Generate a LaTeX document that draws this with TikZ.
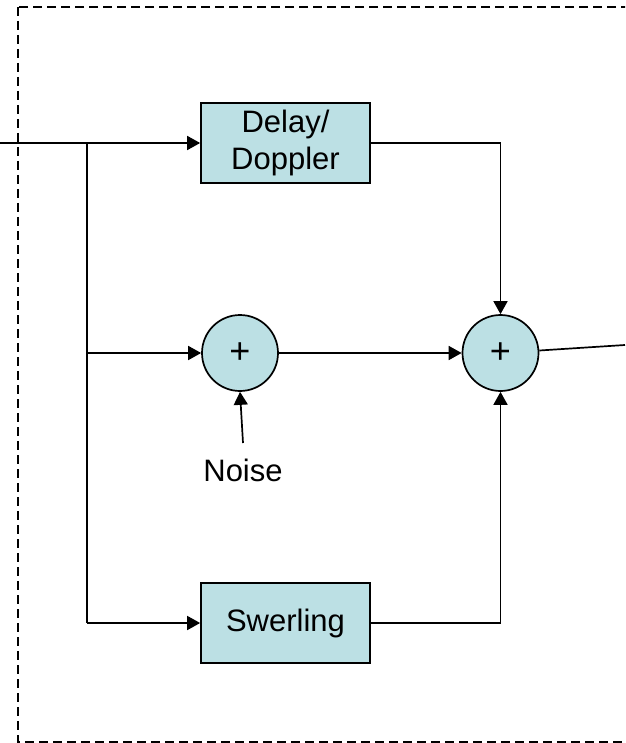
\documentclass[tikz,border=0pt]{standalone}
\usepackage{fontspec}
\setmainfont{Liberation Sans}
\usetikzlibrary{arrows.meta}
\definecolor{boxfill}{RGB}{188,224,228}
\begin{document}
\begin{tikzpicture}[x=1pt,y=-1pt,
  blk/.style={draw=black, line width=1.7pt, fill=boxfill, minimum width=169pt, minimum height=80pt, inner sep=0pt, align=center, font=\fontsize{31}{37}\selectfont},
  sumnode/.style={circle, draw=black, line width=1.7pt, fill=boxfill, minimum size=76pt, inner sep=0pt, font=\fontsize{36}{40}\selectfont},
  conn/.style={line width=1.7pt},
  arr/.style={conn, -{Triangle[length=13pt,width=14pt]}},
  lbl/.style={font=\fontsize{31}{37}\selectfont},
  frame/.style={line width=2.2pt, dash pattern=on 9pt off 5pt}
]
\clip (0,0) rectangle (625,743);
\draw[frame] (18,7) rectangle (660,742);

\node[blk] (delay) at (285.5,143) {Delay/\\Doppler};
\node[blk] (swer) at (285.5,623) {Swerling};
\node[sumnode] (s1) at (240,353) {+};
\node[sumnode] (s2) at (500.5,353) {+};
\node[lbl] (noise) at (243,470) {Noise};

\coordinate (in) at (0,143);
\coordinate (out) at (625,345);
\coordinate (br1) at (87,143);
\coordinate (br2) at (87,353);
\coordinate (br3) at (87,623);
\coordinate (noisetop) at (243,443);

\draw[arr] (in) -- (delay.west);
\draw[conn] (br1) -- (br3);
\draw[arr] (br2) -- (s1.west);
\draw[arr] (br3) -- (swer.west);
\draw[arr] (delay.east) -| (s2.north);
\draw[arr] (s1) -- (s2);
\draw[arr] (swer.east) -| (s2.south);
\draw[arr] (noisetop) -- (s1.south);
\draw[conn] (s2) -- (out);
\end{tikzpicture}
\end{document}
